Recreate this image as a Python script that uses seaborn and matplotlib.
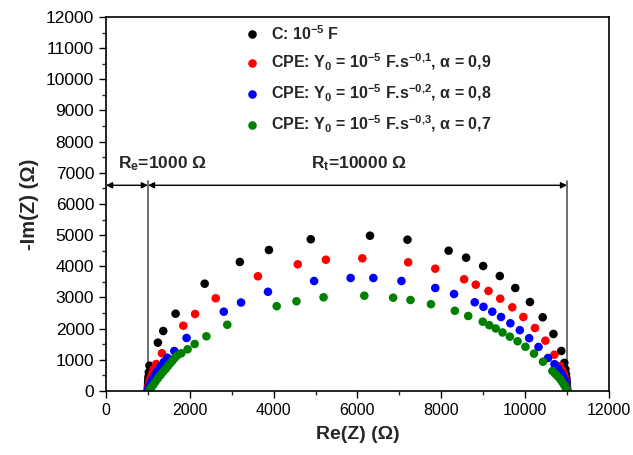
import numpy as np
import pandas as pd
import matplotlib
matplotlib.use("Agg")
import matplotlib.pyplot as plt
from matplotlib.ticker import MultipleLocator
import seaborn as sns

# ---------------- data ----------------
series_names = [
    r"C: 10$^{-5}$ F",
    r"CPE: Y$_0$ = 10$^{-5}$ F.s$^{-0{,}1}$, α = 0,9",
    r"CPE: Y$_0$ = 10$^{-5}$ F.s$^{-0{,}2}$, α = 0,8",
    r"CPE: Y$_0$ = 10$^{-5}$ F.s$^{-0{,}3}$, α = 0,7",
]
series_colors = ["#000000", "#ff0000", "#0000ff", "#008000"]

c_re = [1000, 1000, 1000, 1001, 1002, 1004, 1007, 1012, 1020, 1037, 1238, 1365, 1660,
        2354, 3193, 3887, 4886, 6299, 7193, 8175, 8592, 8999, 9396, 9765, 10115, 10419,
        10675, 10862, 10935, 10960, 10975, 10985, 10992, 10996, 10998, 10999, 11000]
c_im = [10, 30, 70, 120, 180, 250, 340, 450, 600, 812, 1550, 1925, 2480,
        3442, 4139, 4524, 4867, 4982, 4854, 4501, 4277, 4010, 3689, 3304, 2855, 2364,
        1829, 1283, 900, 700, 540, 410, 300, 210, 140, 80, 35]

cpe1_re = [1002, 1005, 1010, 1018, 1030, 1045, 1070, 1100, 1140, 1198, 1334, 1844, 2125,
           2618, 3624, 4575, 5246, 6115, 7210, 7856, 8544, 8822, 9126, 9406, 9693, 9957,
           10235, 10484, 10699, 10830, 10890, 10930, 10955, 10972, 10984, 10992, 10997, 10999]
cpe1_im = [25, 60, 110, 170, 240, 330, 440, 560, 700, 866, 1210, 2095, 2470,
           2974, 3680, 4065, 4212, 4257, 4129, 3924, 3584, 3410, 3208, 2961, 2685, 2374,
           2021, 1614, 1165, 800, 650, 510, 390, 290, 200, 130, 70, 30]

cpe2_re = [1005, 1015, 1030, 1050, 1080, 1120, 1170, 1230, 1300, 1380, 1461, 1629, 1923,
           2810, 3222, 3864, 4965, 5837, 6378, 7049, 7856, 8304, 8798, 9006, 9217, 9425,
           9648, 9873, 10096, 10319, 10546, 10700, 10780, 10850, 10900, 10940, 10965,
           10982, 10992, 10998]
cpe2_im = [35, 80, 140, 210, 300, 400, 520, 650, 790, 930, 1068, 1283, 1700,
           2544, 2839, 3183, 3529, 3625, 3625, 3529, 3304, 3112, 2846, 2701, 2544, 2374,
           2172, 1951, 1694, 1412, 1059, 860, 720, 590, 470, 360, 260,
           170, 100, 40]

cpe3_re = [1040, 1080, 1130, 1180, 1240, 1300, 1360, 1420, 1480, 1540, 1590, 1640, 1700,
           1796, 1947, 2115, 2395, 2893, 4072, 4544, 5190, 6163, 6850, 7265, 7753, 8323,
           8642, 8989, 9145, 9298, 9461, 9636, 9820, 10007, 10211, 10426, 10650, 10710,
           10770, 10830, 10880, 10920, 10955, 10980, 10995]
cpe3_im = [40, 110, 200, 300, 410, 510, 610, 700, 800, 900, 980, 1060, 1140,
           1210, 1338, 1508, 1755, 2124, 2721, 2878, 3006, 3057, 2993, 2919, 2785, 2573,
           2406, 2223, 2111, 2005, 1877, 1742, 1595, 1418, 1197, 940, 640, 560,
           480, 390, 300, 220, 150, 90, 40]

re_value = 1000
rt_value = 10000
arrow_y = 6600

# ---------------- style ----------------
sns.set_theme(style="ticks")
plt.rcParams["font.family"] = ["Liberation Sans", "DejaVu Sans"]
plt.rcParams["mathtext.fontset"] = "custom"
plt.rcParams["mathtext.rm"] = "Liberation Sans:bold"
plt.rcParams["mathtext.bf"] = "Liberation Sans:bold"
plt.rcParams["mathtext.it"] = "Liberation Sans:bold"
plt.rcParams["mathtext.default"] = "bf"

frames = []
for name, xs, ys in zip(series_names,
                        [c_re, cpe1_re, cpe2_re, cpe3_re],
                        [c_im, cpe1_im, cpe2_im, cpe3_im]):
    frames.append(pd.DataFrame({"re": xs, "im": ys, "series": name}))
df = pd.concat(frames, ignore_index=True)

fig = plt.figure(figsize=(6.33, 4.55), dpi=100)
ax = fig.add_axes([0.1675, 0.1407, 0.7945, 0.822])

sns.scatterplot(data=df, x="re", y="im", hue="series", hue_order=series_names,
                palette=series_colors, s=38, edgecolor="none", linewidth=0,
                ax=ax, legend=True)

ax.set_xlim(0, 12000)
ax.set_ylim(0, 12000)
ax.xaxis.set_major_locator(MultipleLocator(2000))
ax.xaxis.set_minor_locator(MultipleLocator(1000))
ax.yaxis.set_major_locator(MultipleLocator(1000))
ax.yaxis.set_minor_locator(MultipleLocator(500))
ax.tick_params(which="major", direction="out", length=5, width=1,
               colors="black", top=False, right=False)
ax.tick_params(axis="x", which="major", labelsize=11.5)
ax.tick_params(axis="y", which="major", labelsize=12.5)
ax.tick_params(which="minor", direction="out", length=3, width=1,
               top=False, right=False)
for sp in ax.spines.values():
    sp.set_linewidth(1.2)
    sp.set_color("black")

ax.set_xlabel("Re(Z) (Ω)", fontsize=14, fontweight="bold", labelpad=6)
ax.set_ylabel("-Im(Z) (Ω)", fontsize=14.5, fontweight="bold", labelpad=5)

# annotations: vertical guide lines and double arrows
line_top = arrow_y + 130
ax.plot([re_value, re_value], [0, line_top], color="#555555", lw=1.2, zorder=0)
ax.plot([re_value + rt_value, re_value + rt_value], [0, line_top], color="#555555",
        lw=1.2, zorder=0)
arrow_kw = dict(arrowstyle="<|-|>", color="black", lw=1.0, shrinkA=0, shrinkB=0,
                mutation_scale=9)
ax.annotate("", xy=(0, arrow_y), xytext=(re_value, arrow_y), arrowprops=arrow_kw)
ax.annotate("", xy=(re_value, arrow_y), xytext=(re_value + rt_value, arrow_y),
            arrowprops=arrow_kw)
ax.text(290, 7150, r"R$_e$=1000 Ω", fontsize=12.5, fontweight="bold", va="baseline")
ax.text(4890, 7150, r"R$_t$=10000 Ω", fontsize=12.5, fontweight="bold", va="baseline")

handles, labels = ax.get_legend_handles_labels()
ax.legend(handles, labels, loc="upper left", bbox_to_anchor=(0.262, 0.998),
          frameon=False, prop={"weight": "bold", "size": 11.5},
          handlelength=1.0, handletextpad=0.7, labelspacing=0.6,
          borderaxespad=0, markerscale=1.0)

fig.savefig("out.png", dpi=100)
